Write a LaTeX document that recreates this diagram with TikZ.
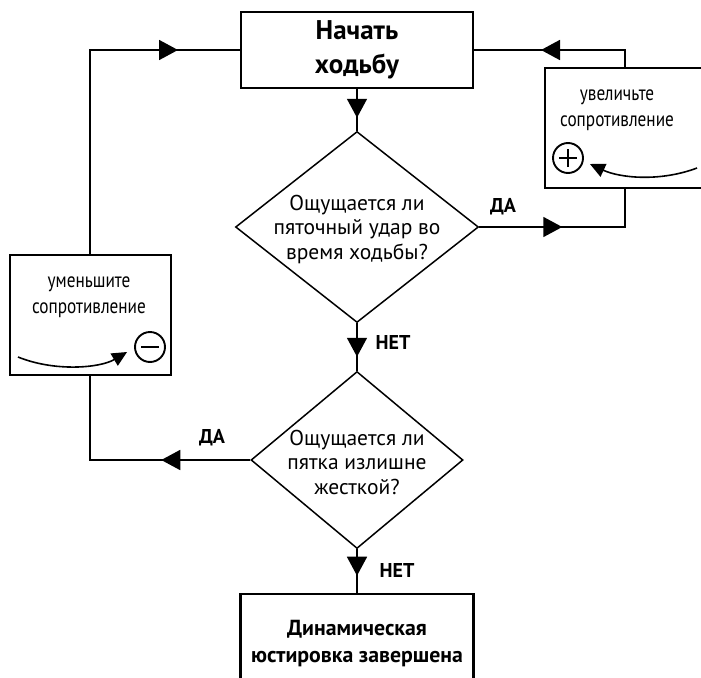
\documentclass[tikz,border=0pt]{standalone}
\usepackage{fontspec}
\setmainfont{PT Sans}
\newfontfamily\narrowfont[FakeStretch=0.82]{PT Sans}
\usetikzlibrary{arrows.meta,shapes.geometric,decorations.markings}

\tikzset{
  flow line/.style={draw=black, line width=1.7pt},
  flow tip/.style={postaction={decorate, decoration={markings,
      mark=at position #1 with {\arrow{Triangle[length=19pt,width=20pt]}}}}},
  stepbox/.style={rectangle, draw=black, line width=2.6pt, inner sep=0pt},
  sidebox/.style={rectangle, draw=black, line width=2pt, inner sep=0pt},
  decision/.style={diamond, draw=black, line width=1.5pt, inner sep=0pt},
  question text/.style={align=center, font=\fontsize{21.5}{24.5}\selectfont},
  title text/.style={align=center, font=\bfseries\fontsize{27}{34}\selectfont},
  end text/.style={align=center, font=\bfseries\fontsize{21.8}{27}\selectfont},
  hint text/.style={align=center, font=\narrowfont\fontsize{21}{26}\selectfont},
  answer/.style={font=\bfseries\fontsize{20}{22}\selectfont},
  sign/.style={circle, draw=black, line width=1.9pt, minimum size=30pt, inner sep=0pt},
  bend arrow/.style={line width=1.6pt, -{Triangle[length=15pt,width=14pt]}},
}

\begin{document}
\begin{tikzpicture}[x=1pt, y=-1pt]
  \useasboundingbox (0,0) rectangle (701,677);
  \clip (0,0) rectangle (701,677);

  % main column
  \node[stepbox, title text, minimum width=232pt, minimum height=76pt] (start) at (357,50) {Начать\\ходьбу};
  \node[decision, minimum width=243pt, minimum height=191pt] (heel) at (357,227) {};
  \node[question text] (heelq) at ([yshift=-2pt]heel.center) {Ощущается ли\\пяточный удар во\\время ходьбы?};
  \node[decision, minimum width=212pt, minimum height=177pt] (stiff) at (357,460) {};
  \node[question text] (stiffq) at ([yshift=-2pt]stiff.center) {Ощущается ли\\пятка излишне\\жесткой?};
  \node[stepbox, minimum width=233pt, minimum height=106pt] (done) at (357,647) {};
  \node[end text] (doneq) at (357,644) {Динамическая\\юстировка завершена};

  % right box: more resistance
  \node[sidebox, minimum width=160pt, minimum height=120pt] (more) at (625,128) {};
  \node[hint text] (moreq) at (617,110) {увеличьте\\сопротивление};
  \node[sign] (plus) at (568,158) {};
  \draw[line width=1.9pt] ([xshift=-9pt]plus.center) -- ([xshift=9pt]plus.center)
    ([yshift=-9pt]plus.center) -- ([yshift=9pt]plus.center);
  \coordinate (morestart) at (697,168);
  \draw[bend arrow] (morestart) .. controls (660,182) and (620,178) .. ([shift={(6pt,-6pt)}]plus.east);

  % left box: less resistance
  \node[sidebox, minimum width=161pt, minimum height=120pt] (less) at (90,315) {};
  \node[hint text] (lessq) at (89,297) {уменьшите\\сопротивление};
  \node[sign] (minus) at (150,347) {};
  \draw[line width=1.9pt] ([xshift=-9pt]minus.center) -- ([xshift=9pt]minus.center);
  \coordinate (lessstart) at (18,357);
  \draw[bend arrow] (lessstart) .. controls (55,372) and (100,368) .. ([shift={(-7pt,-5pt)}]minus.west);

  % connectors
  \draw[flow line, flow tip=-13pt] (start.south) -- (heel.north);
  \draw[flow line, flow tip=-14pt] (heel.south) -- (stiff.north);
  \draw[flow line, flow tip=-17pt] (stiff.south) -- (done.north);
  \draw[flow line, flow tip=83pt] (heel.east) -| (more.south);
  \draw[flow line, flow tip=101pt] (more.north) |- (start.east);
  \draw[flow line, flow tip=292pt] (less.north) |- (start.west);
  \draw[flow line, flow tip=89pt] (stiff.west) -| (less.south);

  % answers
  \node[answer] (yes1) at (503,207) {ДА};
  \node[answer] (yes2) at (212,438) {ДА};
  \node[answer] (no1) at (393,342) {НЕТ};
  \node[answer] (no2) at (397,570) {НЕТ};
\end{tikzpicture}
\end{document}
